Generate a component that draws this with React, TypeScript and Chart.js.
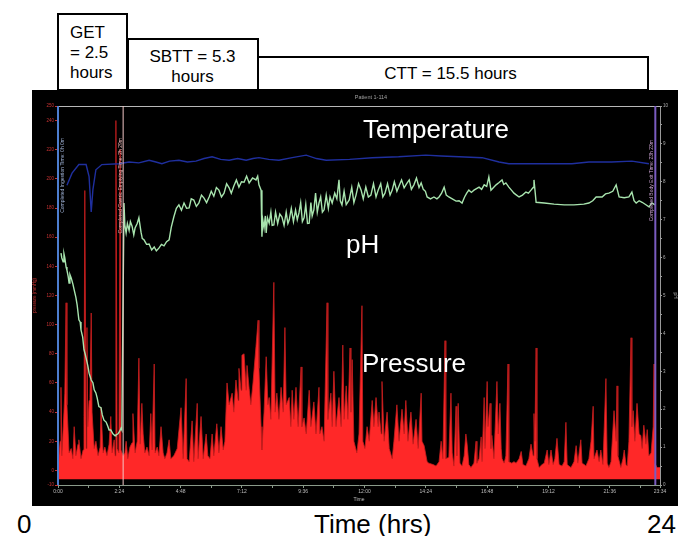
import React, { useEffect, useRef } from "react";
import { Chart, registerables } from "chart.js";
Chart.register(...registerables);

// ---- data (time in minutes since ingestion) ----
const chartTitle = "Patient 1-114";
const xTickMinutes = [0, 72, 144, 216, 288, 360, 432, 504, 576, 648, 720, 792, 864, 936, 1008, 1080, 1152, 1224, 1296, 1368, 1414];
const pressureTicks = [-10, 0, 20, 40, 60, 80, 100, 120, 140, 160, 180, 200, 220, 240, 250];

// pressure (mmHg): [minute, value]
const pressureEarly: number[][] = [
  [0, 2], [5, 20], [7, 57], [9, 10], [14, 40], [16, 53], [19, 115], [21, 45], [26, 12], [31, 15], [35, 8], [38, 30],
  [42, 10], [47, 18], [49, 21], [54, 8], [59, 14], [61, 37], [63, 192], [66, 15], [68, 98], [70, 30], [73, 48], [75, 50],
  [78, 108], [80, 40], [85, 15], [89, 20], [94, 10], [99, 16], [101, 43], [106, 12], [110, 16], [115, 10], [120, 18],
  [124, 37], [127, 12], [132, 21], [134, 10], [136, 240], [139, 15], [143, 12], [146, 220], [148, 14], [153, 10],
];
const pressureSmallBowel: number[][] = [
  [157, 12], [160, 20], [164, 8], [169, 16], [174, 19], [176, 39], [181, 12], [186, 20], [190, 77], [193, 18], [197, 46],
  [200, 25], [204, 12], [209, 16], [214, 10], [218, 39], [221, 14], [226, 73], [228, 12], [233, 16], [237, 10], [242, 30],
  [247, 12], [251, 8], [256, 12], [261, 21], [265, 8], [272, 10], [280, 15], [289, 43], [294, 8], [301, 63], [303, 8],
  [308, 6], [315, 34], [319, 6], [327, 46], [329, 8], [336, 37], [341, 8], [348, 25], [352, 10], [357, 8], [362, 25],
  [366, 10], [373, 32], [378, 12], [383, 30], [388, 14], [392, 20], [397, 60],
];
const pressureColon1: number[][] = [
  [402, 45], [409, 53], [413, 40], [418, 62], [423, 48], [425, 70], [430, 55], [432, 79], [437, 80], [442, 55], [444, 72],
  [449, 56], [453, 45], [458, 60], [465, 85], [470, 103], [472, 70], [477, 30], [479, 14], [484, 40], [489, 78], [493, 45],
  [496, 50], [500, 35], [507, 129], [510, 40], [514, 53], [519, 35], [524, 57], [529, 40], [533, 98], [536, 45], [543, 50],
  [547, 30], [550, 55], [554, 35], [559, 57], [564, 30], [571, 71], [573, 30], [578, 36], [583, 25], [590, 55], [594, 30],
  [601, 47], [606, 25], [613, 57], [615, 25], [620, 30], [625, 20], [632, 115], [634, 35], [641, 53], [644, 30], [648, 68],
  [653, 30], [660, 50],
];
const pressureColon2: number[][] = [
  [665, 30], [669, 86], [672, 35], [677, 58], [681, 35], [686, 84], [688, 40], [691, 76], [695, 20], [702, 12], [707, 25],
  [714, 113], [716, 20], [721, 15], [726, 30], [731, 20], [738, 48], [742, 30], [747, 50], [752, 30], [754, 40], [759, 25],
  [761, 61], [766, 20], [773, 40], [778, 15], [785, 8], [789, 20], [796, 45], [801, 20], [808, 42], [813, 25], [817, 48],
  [822, 20], [829, 40], [834, 18], [841, 35], [846, 15], [853, 53], [855, 20], [860, 17], [867, 6], [871, 5], [881, 4],
  [888, 3], [895, 6], [900, 20], [904, 8], [909, 89], [911, 8], [918, 9], [923, 53], [926, 12], [930, 3], [935, 44],
  [937, 10], [940, 46], [944, 5],
];
const pressureColon3: number[][] = [
  [949, 3], [954, 10], [958, 25], [961, 18], [965, 4], [970, 2], [977, 5], [982, 20], [984, 5], [989, 8], [994, 23],
  [996, 6], [1001, 50], [1003, 15], [1008, 61], [1010, 30], [1015, 46], [1017, 15], [1019, 24], [1024, 8], [1031, 61],
  [1034, 25], [1038, 46], [1041, 15], [1043, 8], [1048, 5], [1052, 10], [1057, 73], [1059, 6], [1066, 5], [1071, 6],
  [1076, 5], [1083, 8], [1088, 13], [1092, 4], [1099, 3], [1106, 8], [1111, 18], [1116, 10], [1118, 39], [1120, 20],
  [1123, 84], [1125, 8], [1130, 2], [1137, 4], [1142, 5], [1149, 14], [1153, 4], [1158, 14], [1163, 4], [1167, 8],
  [1172, 22], [1177, 4], [1184, 3], [1189, 6], [1193, 33], [1196, 4], [1200, 3], [1205, 2], [1212, 6], [1217, 17],
  [1221, 5], [1228, 21], [1231, 5], [1236, 4], [1240, 3], [1247, 8], [1252, 20], [1257, 44], [1259, 8], [1266, 14],
  [1271, 6], [1275, 14], [1280, 4], [1287, 63], [1290, 5], [1294, 2], [1299, 6], [1306, 41], [1311, 20], [1313, 58],
  [1315, 10], [1322, 2], [1327, 8], [1330, 14], [1334, 4], [1337, 3], [1341, 20], [1346, 91], [1348, 30], [1351, 41],
  [1355, 20], [1360, 46], [1365, 25], [1369, 24], [1372, 15], [1376, 31], [1381, 18], [1384, 28], [1388, 10], [1393, 12],
  [1398, 30], [1400, 73], [1402, 5], [1407, 2], [1414, 2],
];

// pH: [minute, pH]
const phStomach: number[][] = [
  [7, 6.12], [9, 5.99], [12, 5.89], [14, 6.1], [16, 5.99], [19, 5.75], [21, 5.67], [24, 5.5], [26, 5.33], [28, 5.55],
  [31, 5.46], [35, 5.3], [38, 5.15], [42, 4.95], [45, 4.75], [49, 4.36], [52, 4.3], [54, 4.09], [58, 3.9], [61, 3.57],
  [64, 3.45], [68, 3.25], [70, 3.15], [73, 2.95], [78, 2.77], [82, 2.7], [85, 2.51], [89, 2.43], [92, 2.3], [96, 2.07],
  [101, 2.04], [104, 1.85], [108, 1.71], [113, 1.66], [117, 1.55], [120, 1.45], [124, 1.45], [129, 1.35], [134, 1.3],
  [136, 1.32], [141, 1.35], [145, 1.42], [148, 1.5], [150, 1.45],
];
const phSmallBowel: number[][] = [
  [155, 7.44], [157, 6.86], [160, 6.65], [163, 6.9], [167, 6.72], [170, 6.95], [174, 6.83], [178, 6.6], [181, 6.78],
  [186, 6.9], [190, 7.05], [195, 6.67], [198, 6.5], [202, 6.47], [208, 6.35], [214, 6.36], [220, 6.2], [226, 6.28],
  [231, 6.18], [237, 6.25], [243, 6.35], [249, 6.31], [255, 6.42], [261, 6.47], [266, 6.8], [272, 7.07], [278, 7.3],
  [284, 7.39], [290, 7.25], [296, 7.44], [302, 7.3], [308, 7.31], [313, 7.55], [319, 7.52], [325, 7.35], [331, 7.44],
  [337, 7.65], [343, 7.57], [349, 7.45], [355, 7.6], [360, 7.75], [366, 7.62], [372, 7.85], [378, 7.78], [384, 7.6],
  [390, 7.7], [396, 7.95], [402, 7.84], [407, 7.7], [413, 7.89], [419, 8.05], [425, 7.86], [431, 8.0], [437, 7.99],
  [443, 8.15], [449, 7.97], [457, 8.1], [465, 8.05], [469, 8.15], [472, 7.92], [477, 7.78],
];
const phColon: number[][] = [
  [479, 6.55], [481, 7.0], [484, 6.78], [487, 7.1], [489, 6.65], [492, 7.05], [496, 6.91], [500, 7.2], [503, 6.85],
  [507, 6.86], [511, 7.2], [516, 6.9], [521, 7.15], [526, 7.07], [531, 6.85], [536, 7.2], [540, 6.9], [543, 6.99],
  [548, 7.3], [553, 6.95], [558, 7.25], [562, 7.0], [566, 7.18], [570, 7.45], [574, 6.95], [578, 7.05], [582, 7.4],
  [586, 6.9], [590, 6.91], [594, 7.45], [597, 7.1], [601, 7.26], [605, 7.7], [609, 7.2], [613, 7.44], [617, 7.6],
  [621, 7.2], [625, 7.26], [630, 7.65], [635, 7.3], [639, 7.6], [644, 7.44], [650, 7.7], [655, 7.55], [660, 8.05],
  [663, 7.5], [667, 7.39], [672, 7.75], [677, 7.4], [684, 7.52], [690, 7.85], [695, 7.45], [700, 7.65], [706, 7.95],
  [712, 7.78], [717, 7.55], [723, 7.86], [729, 7.6], [735, 7.65], [741, 7.95], [747, 7.6], [752, 7.78], [758, 7.95],
  [763, 7.6], [768, 7.7], [774, 7.95], [780, 7.65], [785, 7.78], [790, 8.0], [796, 7.75], [801, 7.89], [807, 8.05],
  [813, 7.84], [819, 7.95], [825, 8.05], [830, 7.8], [836, 7.92], [842, 8.1], [848, 7.85], [853, 7.97], [858, 7.8],
  [863, 7.75], [867, 7.6], [875, 7.55], [883, 7.6], [890, 7.55], [895, 7.6], [901, 7.7], [907, 7.86], [912, 7.65],
  [918, 7.6], [926, 7.55], [935, 7.49], [942, 7.5], [949, 7.44], [955, 7.6], [960, 7.7], [965, 7.78], [971, 7.72],
  [977, 7.78], [983, 7.82], [989, 7.86], [995, 7.8], [1001, 7.92], [1007, 7.88], [1012, 8.13], [1017, 7.78],
  [1023, 7.85], [1029, 7.92], [1036, 7.98], [1043, 8.05], [1047, 7.93], [1052, 7.97], [1059, 7.86], [1065, 7.78],
  [1071, 7.7], [1077, 7.65], [1083, 7.6], [1091, 7.65], [1099, 7.73], [1105, 7.7], [1111, 7.78], [1116, 7.85],
  [1118, 8.05], [1121, 7.7], [1123, 7.46], [1142, 7.44], [1165, 7.41], [1189, 7.39], [1212, 7.39], [1235, 7.41],
  [1247, 7.44], [1256, 7.5], [1264, 7.6], [1278, 7.6], [1286, 7.68], [1294, 7.7], [1303, 7.75], [1311, 7.92],
  [1318, 7.6], [1330, 7.58], [1341, 7.6], [1348, 7.73], [1353, 7.5], [1358, 7.44], [1365, 7.5], [1372, 7.46],
  [1380, 7.4], [1388, 7.34], [1395, 7.44], [1402, 7.39],
];

// temperature (°C): [minute, value]
const temperature: number[][] = [
  [21, 34.8], [33, 36.2], [49, 37.2], [66, 37.2], [73, 35.8], [78, 31.7], [82, 34.3], [89, 36.6], [103, 37.2], [143, 37.3],
  [167, 37.5], [190, 37.4], [214, 37.7], [230, 37.5], [244, 37.3], [262, 37.6], [284, 37.7], [304, 37.5], [324, 37.6],
  [343, 37.9], [362, 38.1], [382, 37.8], [402, 37.7], [422, 37.9], [442, 37.7], [458, 37.9], [472, 38.0], [495, 37.8],
  [519, 37.7], [550, 38.0], [583, 38.3], [607, 37.9], [630, 37.7], [685, 37.8], [738, 38.0], [800, 38.1], [864, 38.3],
  [900, 38.2], [942, 38.1], [996, 38.0], [1036, 37.5], [1059, 37.3], [1130, 37.3], [1207, 37.3], [1247, 37.5],
  [1300, 37.5], [1348, 37.6], [1388, 37.3],
];

// event markers
const markerTimes = [0, 153, 1403];
const markerLabels = [
  "Completed Ingestion Time: 0h 0m",
  "Completed Gastric Emptying Time: 2h 29m",
  "Completed Body Exit Time: 23h 23m",
];

const FONT = '"Liberation Sans", Arial, sans-serif';

const toXY = (arr: number[][]) => arr.map(([x, y]) => ({ x, y }));
const fmtTime = (m: number) => `${Math.floor(m / 60)}:${String(m % 60).padStart(2, "0")}`;

const markerStyles = [
  { color: "#4d7ed0", width: 2, text: "#9fb2d6", dx: 5, top: 32 },
  { color: "#f2c6c6", width: 1, text: "#e6b4b4", dx: -3, top: 32 },
  { color: "#7a5cc0", width: 2, text: "#c9a0cf", dx: -3.5, top: 34 },
];

const overlayPlugin = {
  id: "overlay",
  afterDatasetsDraw(chart: any) {
    const { ctx, chartArea, scales } = chart;
    const xs = scales.x;
    ctx.save();
    ctx.strokeStyle = "#b8b8b8";
    ctx.lineWidth = 1;
    ctx.beginPath();
    ctx.moveTo(chartArea.left, chartArea.top + 0.5);
    ctx.lineTo(chartArea.right, chartArea.top + 0.5);
    ctx.stroke();
    markerTimes.forEach((t, i) => {
      const st = markerStyles[i];
      const px = xs.getPixelForValue(t);
      ctx.strokeStyle = st.color;
      ctx.lineWidth = st.width;
      ctx.beginPath();
      ctx.moveTo(px, chartArea.top);
      ctx.lineTo(px, chartArea.bottom);
      ctx.stroke();
      ctx.save();
      ctx.translate(px + st.dx, chartArea.top + st.top);
      ctx.rotate(-Math.PI / 2);
      ctx.fillStyle = st.text;
      ctx.font = `5px ${FONT}`;
      ctx.textAlign = "right";
      ctx.textBaseline = "middle";
      ctx.fillText(markerLabels[i], 0, 0);
      ctx.restore();
    });
    ctx.fillStyle = "#a0a0a0";
    ctx.font = `5.5px ${FONT}`;
    ctx.textAlign = "center";
    ctx.textBaseline = "middle";
    ctx.fillText(chartTitle, (chartArea.left + chartArea.right) / 2 + 12, 7);
    ctx.restore();
  },
};

function ChartCanvas() {
  const ref = useRef<HTMLCanvasElement | null>(null);
  useEffect(() => {
    if (!ref.current) return;
    const chart = new Chart(ref.current, {
      type: "line",
      data: {
        datasets: [
          {
            label: "pH",
            data: toXY([...phStomach, ...phSmallBowel, ...phColon]),
            yAxisID: "yPh",
            borderColor: "#a8e4ae",
            borderWidth: 1.4,
            pointRadius: 0,
            fill: false,
          },
          {
            label: "Temperature",
            data: toXY(temperature),
            yAxisID: "yT",
            borderColor: "#1f2f9e",
            borderWidth: 1.4,
            pointRadius: 0,
            fill: false,
          },
          {
            label: "Pressure",
            data: toXY([...pressureEarly, ...pressureSmallBowel, ...pressureColon1, ...pressureColon2, ...pressureColon3]),
            yAxisID: "y",
            borderColor: "#c81e1e",
            borderWidth: 0.8,
            backgroundColor: "#ff2828",
            pointRadius: 0,
            fill: { value: -6 },
          },
        ],
      } as any,
      options: {
        animation: false,
        responsive: false,
        maintainAspectRatio: false,
        layout: { padding: { top: 16, left: 0, right: 0, bottom: 0 } },
        plugins: { legend: { display: false }, tooltip: { enabled: false }, title: { display: false } },
        elements: { line: { tension: 0 } },
        scales: {
          x: {
            type: "linear",
            min: 0,
            max: 1414,
            afterBuildTicks: (s: any) => {
              s.ticks = xTickMinutes.map((v) => ({ value: v }));
            },
            afterFit: (s: any) => {
              s.height = 21;
            },
            ticks: {
              autoSkip: false,
              maxRotation: 0,
              minRotation: 0,
              padding: 1,
              color: "#bdbdbd",
              font: { size: 5, family: FONT },
              callback: (v: any) => (v % 144 === 0 || v === 1414 ? fmtTime(v) : ""),
            },
            grid: { display: true, drawOnChartArea: false, drawTicks: true, tickLength: 3, color: "#8a9a8a" },
            border: { display: true, color: "#8a9a8a" },
            title: { display: true, text: "Time", color: "#bdbdbd", font: { size: 5, family: FONT }, padding: { top: 0, bottom: 3 } },
          },
          y: {
            position: "left",
            min: -10,
            max: 250,
            afterBuildTicks: (s: any) => {
              s.ticks = pressureTicks.map((v) => ({ value: v }));
            },
            afterFit: (s: any) => {
              s.width = 26;
            },
            ticks: { color: "#c83232", padding: 1, font: { size: 4.5, family: FONT } },
            grid: { display: true, drawOnChartArea: false, drawTicks: true, tickLength: 3, color: "#c83232" },
            border: { display: false },
            title: { display: true, text: "pressure (mmHg)", color: "#c83232", font: { size: 4.5, family: FONT }, padding: 0 },
          },
          yPh: {
            position: "right",
            min: 0,
            max: 10,
            afterFit: (s: any) => {
              s.width = 18;
            },
            ticks: {
              stepSize: 0.5,
              autoSkip: false,
              padding: 1,
              color: "#b0b0b0",
              font: { size: 4.5, family: FONT },
              callback: (v: any) => (Number.isInteger(v) ? String(v) : ""),
            },
            grid: { display: true, drawOnChartArea: false, drawTicks: true, tickLength: 2, color: "#9a9a9a" },
            border: { display: true, color: "#9a9a9a" },
            title: { display: true, text: "pH", color: "#b0b0b0", font: { size: 4.5, family: FONT }, padding: 0 },
          },
          yT: { display: false, min: 0, max: 44 },
        },
      } as any,
      plugins: [overlayPlugin],
    });
    return () => chart.destroy();
  }, []);
  return <canvas ref={ref} width={646} height={416} style={{ display: "block" }} />;
}

const abs = (extra: React.CSSProperties): React.CSSProperties => ({ position: "absolute", ...extra });

export default function App() {
  return (
    <div
      style={{
        position: "fixed",
        left: 0,
        top: 0,
        width: 678,
        height: 536,
        background: "#fff",
        overflow: "hidden",
        fontFamily: FONT,
        color: "#000",
      }}
    >
      {/* transit-time boxes */}
      <div style={abs({ left: 57, top: 12.5, width: 71, height: 78, border: "2px solid #000", boxSizing: "border-box" })} />
      <div style={abs({ left: 126.5, top: 37.5, width: 132, height: 53, border: "2px solid #000", boxSizing: "border-box" })} />
      <div style={abs({ left: 256.5, top: 55.5, width: 392, height: 35, border: "2px solid #000", boxSizing: "border-box" })} />
      <div style={abs({ left: 70, top: 22.6, fontSize: 17, lineHeight: "20px", whiteSpace: "nowrap" })}>
        GET
        <br />= 2.5
        <br />
        hours
      </div>
      <div style={abs({ left: 127, width: 131, top: 47.4, fontSize: 17, lineHeight: "20px", textAlign: "center", whiteSpace: "nowrap" })}>
        SBTT = 5.3
        <br />
        hours
      </div>
      <div style={abs({ left: 255, width: 391, top: 64, fontSize: 17, lineHeight: "20px", textAlign: "center", whiteSpace: "nowrap" })}>
        CTT = 15.5 hours
      </div>

      {/* chart */}
      <div style={abs({ left: 32, top: 90, width: 646, height: 416, background: "#000" })}>
        <ChartCanvas />
      </div>

      {/* overlay labels */}
      <div style={abs({ left: 363, top: 116, fontSize: 26, lineHeight: "26px", color: "#fff", whiteSpace: "nowrap" })}>Temperature</div>
      <div style={abs({ left: 346, top: 231, fontSize: 26, lineHeight: "26px", color: "#fff", whiteSpace: "nowrap" })}>pH</div>
      <div style={abs({ left: 362, top: 350, fontSize: 26, lineHeight: "26px", color: "#fff", whiteSpace: "nowrap" })}>Pressure</div>

      {/* bottom axis labels */}
      <div style={abs({ left: 17, top: 511, fontSize: 26, lineHeight: "26px" })}>0</div>
      <div style={abs({ left: 314, top: 511, fontSize: 26, lineHeight: "26px", whiteSpace: "nowrap" })}>Time (hrs)</div>
      <div style={abs({ left: 647, top: 511, fontSize: 26, lineHeight: "26px" })}>24</div>
    </div>
  );
}
